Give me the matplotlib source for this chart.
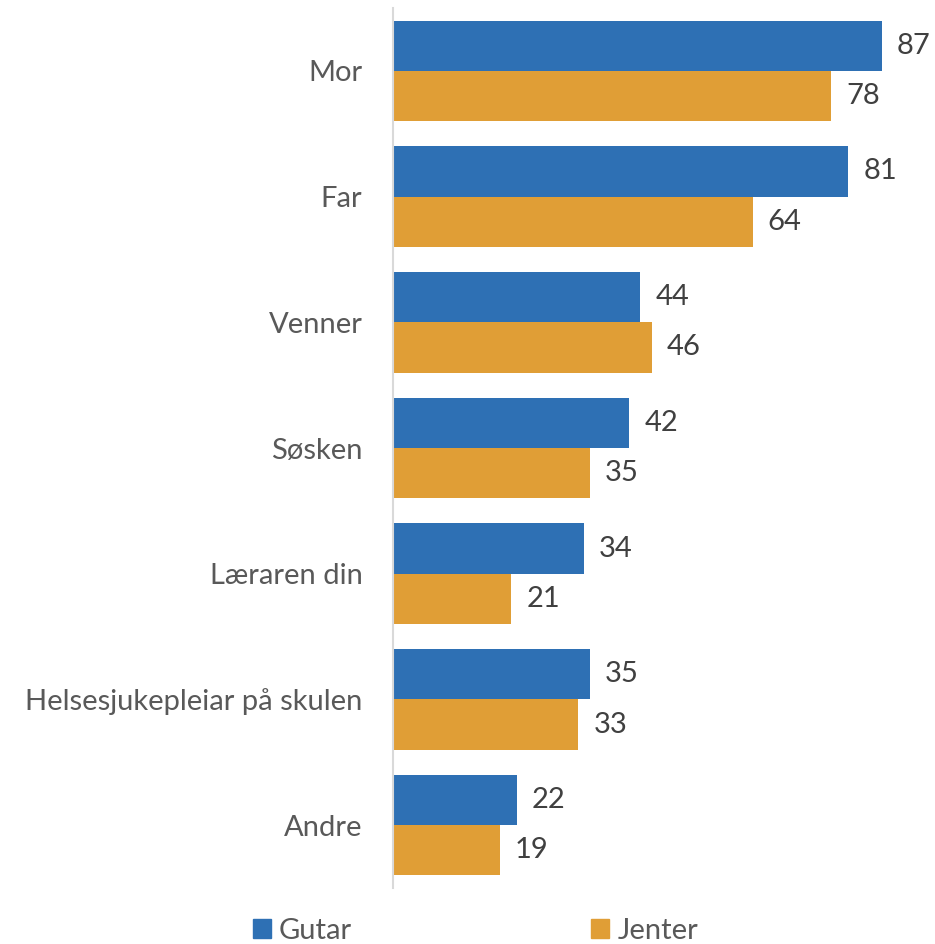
import matplotlib
matplotlib.use("Agg")
import matplotlib.pyplot as plt
from matplotlib.patches import Patch
import numpy as np

categories = ["Mor", "Far", "Venner", "Søsken", "Læraren din", "Helsesjukepleiar på skulen", "Andre"]
gutar = [87, 81, 44, 42, 34, 35, 22]
jenter = [78, 64, 46, 35, 21, 33, 19]
series_names = ["Gutar", "Jenter"]

blue = "#2E70B4"
orange = "#E09E36"
plt.rcParams['font.family'] = ['Lato', 'DejaVu Sans']

W, H = 935, 944
fig = plt.figure(figsize=(W/100, H/100), dpi=100)
ax = fig.add_axes([393/W, 1-888/H, (930-393)/W, 880/H])

y = np.arange(len(categories))
bh = 0.4
ax.barh(y - bh/2, gutar, height=bh, color=blue, label=series_names[0])
ax.barh(y + bh/2, jenter, height=bh, color=orange, label=series_names[1])

fs = 21
for yi, v in zip(y, gutar):
    ax.text(v + 2.7, yi - bh/2, str(v), va='center', ha='left', fontsize=fs, color='#404040')
for yi, v in zip(y, jenter):
    ax.text(v + 2.7, yi + bh/2, str(v), va='center', ha='left', fontsize=fs, color='#404040')

ax.set_ylim(len(categories) - 0.5, -0.5)
ax.set_xlim(0, (930-393)/5.62)
ax.set_yticks(y)
ax.set_yticklabels(categories, fontsize=fs, color='#595959')
ax.tick_params(axis='y', length=0, pad=22)
ax.set_xticks([])
for s in ['top', 'right', 'bottom']:
    ax.spines[s].set_visible(False)
ax.spines['left'].set_color('#D9D9D9')
ax.spines['left'].set_linewidth(1.5)

handles = [Patch(color=blue), Patch(color=orange)]
fig.legend(handles, series_names, loc='center', bbox_to_anchor=(0.5086, 1-931/H),
           ncol=2, frameon=False, fontsize=fs, labelcolor='#595959',
           handlelength=0.62, handleheight=0.62, handletextpad=0.28, columnspacing=8.2)

fig.savefig("out.png", dpi=100)
